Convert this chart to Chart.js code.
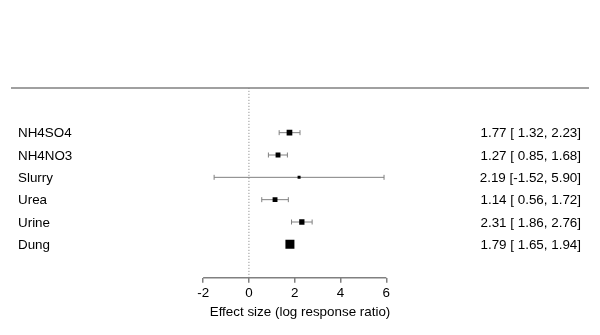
<!DOCTYPE html>
<html>
<head>
<meta charset="utf-8">
<script src="https://cdn.jsdelivr.net/npm/chart.js@4"></script>
<style>
  body { margin: 0; background: #fff; }
  #wrap { width: 600px; height: 335px; }
</style>
</head>
<body>
<div id="wrap"><canvas id="forest"></canvas></div>
<script>
const studies = ['NH4SO4', 'NH4NO3', 'Slurry', 'Urea', 'Urine', 'Dung'];
const estimates = [1.77, 1.27, 2.19, 1.14, 2.31, 1.79];
const lower = [1.32, 0.85, -1.52, 0.56, 1.86, 1.65];
const upper = [2.23, 1.68, 5.90, 1.72, 2.76, 1.94];
const weights = [14, 10, 1, 10, 12, 30]; // relative weights, guessed from the square sizes
const xTicks = [-2, 0, 2, 4, 6];
const axisTitle = 'Effect size (log response ratio)';

// plot region in data units (the axis itself only covers -2..6)
const xMin = -10.39, xMax = 14.85;
const yMin = -0.5, yTop = 8;

const rows = studies.map((s, i) => studies.length - i);
const font = { family: '"Liberation Sans", Arial, sans-serif', size: 13.4 };
const grey = '#808080';

const wMin = Math.min(...weights), wMax = Math.max(...weights);
const sqRadius = weights.map(w => (3 + (w - wMin) / (wMax - wMin) * 6) / (2 * Math.SQRT1_2));

// pad each column to its widest entry, like metafor does
const col = arr => {
  const s = arr.map(v => v.toFixed(2));
  const n = Math.max(...s.map(t => t.length));
  return s.map(t => t.padStart(n, ' '));
};
const estTxt = col(estimates), loTxt = col(lower), hiTxt = col(upper);
const rightText = estTxt.map((e, i) => e + ' [' + loTxt[i] + ', ' + hiTxt[i] + ']');

const ciSets = rows.map((r, i) => ({
  data: [{ x: lower[i], y: r }, { x: upper[i], y: r }],
  showLine: true,
  borderColor: grey,
  borderWidth: 1,
  pointStyle: 'line',
  pointRotation: 90,
  pointRadius: 2.5,
  pointBorderColor: grey,
  pointBorderWidth: 1,
  order: 2
}));

const lineSet = (pts, extra) => Object.assign({
  data: pts,
  showLine: true,
  borderColor: grey,
  borderWidth: 1,
  pointRadius: 0,
  clip: false,
  order: 3
}, extra);

const textPlugin = {
  id: 'forestText',
  afterDatasetsDraw(chart) {
    const c = chart.ctx, ys = chart.scales.y, area = chart.chartArea;
    c.save();
    c.font = font.size + 'px ' + font.family;
    c.fillStyle = '#000';
    c.textBaseline = 'middle';
    rows.forEach((r, i) => {
      const y = ys.getPixelForValue(r) + 1;
      c.textAlign = 'left';
      c.fillText(studies[i], area.left + 7, y);
      c.textAlign = 'right';
      c.fillText(rightText[i], area.right - 8, y);
    });
    c.restore();
  }
};

new Chart(document.getElementById('forest'), {
  type: 'scatter',
  data: {
    datasets: [
      lineSet([{ x: xMin, y: yTop }, { x: xMax, y: yTop }], { borderWidth: 1.5 }),
      lineSet([{ x: 0, y: yMin }, { x: 0, y: yTop }], { borderDash: [1, 2] }),
      lineSet([{ x: xTicks[0], y: yMin }, { x: xTicks[xTicks.length - 1], y: yMin }], { borderWidth: 1.5 }),
      ...ciSets,
      {
        data: rows.map((r, i) => ({ x: estimates[i], y: r })),
        pointStyle: 'rect',
        pointRadius: sqRadius,
        pointBackgroundColor: '#000',
        pointBorderWidth: 0,
        order: 1
      }
    ]
  },
  options: {
    responsive: true,
    maintainAspectRatio: false,
    animation: false,
    layout: { padding: { left: 11, right: 11, top: 88, bottom: 15 } },
    plugins: { legend: { display: false }, tooltip: { enabled: false } },
    scales: {
      x: {
        type: 'linear',
        min: xMin,
        max: xMax,
        afterBuildTicks: s => { s.ticks = xTicks.map(v => ({ value: v })); },
        grid: { drawOnChartArea: false, drawTicks: true, tickLength: 5, color: grey, lineWidth: 1.5 },
        border: { display: false },
        ticks: { font: font, color: '#000', padding: 2, maxRotation: 0, autoSkip: false },
        title: { display: true, text: axisTitle, font: font, color: '#000', padding: { top: 1, bottom: 0 } }
      },
      y: { type: 'linear', min: yMin, max: yTop, display: false }
    }
  },
  plugins: [textPlugin]
});
</script>
</body>
</html>
